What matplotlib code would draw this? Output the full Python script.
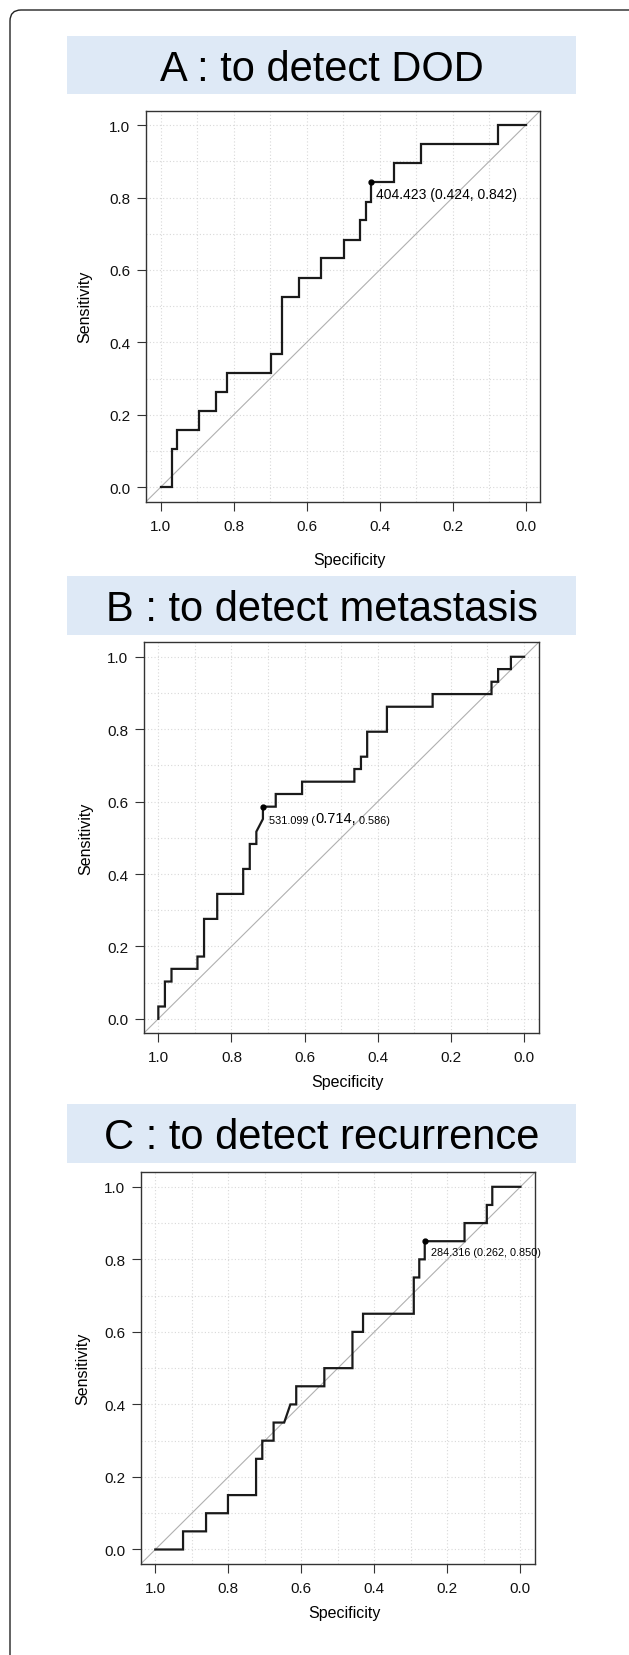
import matplotlib
matplotlib.use("Agg")
import matplotlib.pyplot as plt
from matplotlib.patches import FancyBboxPatch, Rectangle
import numpy as np

plt.rcParams['font.family'] = ['Liberation Sans', 'DejaVu Sans']

# ---------------- data ----------------
titles = ["A : to detect DOD", "B : to detect metastasis", "C : to detect recurrence"]

spec_A = [1.000, 0.970, 0.970, 0.954, 0.954, 0.894, 0.894, 0.849, 0.849, 0.819, 0.819,
          0.698, 0.698, 0.668, 0.668, 0.620, 0.620, 0.560, 0.560, 0.497, 0.497, 0.455,
          0.455, 0.437, 0.437, 0.424, 0.424, 0.362, 0.362, 0.286, 0.286, 0.075, 0.075, 0.000]
sens_A = [0.000, 0.000, 0.105, 0.105, 0.158, 0.158, 0.211, 0.211, 0.263, 0.263, 0.316,
          0.316, 0.368, 0.368, 0.526, 0.526, 0.579, 0.579, 0.632, 0.632, 0.684, 0.684,
          0.737, 0.737, 0.789, 0.789, 0.842, 0.842, 0.895, 0.895, 0.947, 0.947, 1.000, 1.000]

spec_B = [1.000, 1.000, 0.982, 0.982, 0.964, 0.964, 0.893, 0.893, 0.875, 0.875, 0.839,
          0.839, 0.768, 0.768, 0.750, 0.750, 0.732, 0.732, 0.714, 0.714, 0.679, 0.679,
          0.607, 0.607, 0.464, 0.464, 0.446, 0.446, 0.429, 0.429, 0.375, 0.375, 0.250,
          0.250, 0.089, 0.089, 0.071, 0.071, 0.036, 0.036, 0.000]
sens_B = [0.000, 0.034, 0.034, 0.103, 0.103, 0.138, 0.138, 0.172, 0.172, 0.276, 0.276,
          0.345, 0.345, 0.414, 0.414, 0.483, 0.483, 0.517, 0.552, 0.586, 0.586, 0.621,
          0.621, 0.655, 0.655, 0.690, 0.690, 0.724, 0.724, 0.793, 0.793, 0.862, 0.862,
          0.897, 0.897, 0.931, 0.931, 0.966, 0.966, 1.000, 1.000]

spec_C = [1.000, 0.924, 0.924, 0.861, 0.861, 0.801, 0.801, 0.724, 0.724, 0.707, 0.707,
          0.676, 0.676, 0.647, 0.630, 0.614, 0.614, 0.537, 0.537, 0.460, 0.460, 0.431,
          0.431, 0.292, 0.292, 0.277, 0.277, 0.262, 0.262, 0.153, 0.153, 0.092, 0.092,
          0.077, 0.077, 0.000]
sens_C = [0.000, 0.000, 0.050, 0.050, 0.100, 0.100, 0.150, 0.150, 0.250, 0.250, 0.300,
          0.300, 0.350, 0.350, 0.400, 0.400, 0.450, 0.450, 0.500, 0.500, 0.600, 0.600,
          0.650, 0.650, 0.750, 0.750, 0.800, 0.800, 0.850, 0.850, 0.900, 0.900, 0.950,
          0.950, 1.000, 1.000]

best_A = (0.424, 0.842)
best_B = (0.714, 0.586)
best_C = (0.262, 0.850)
label_A = "404.423 (0.424, 0.842)"
label_B_parts = ["531.099 (", "0.714,", " 0.586)"]
label_C = "284.316 (0.262, 0.850)"

tick_vals = [1.0, 0.8, 0.6, 0.4, 0.2, 0.0]
tick_labels = ["1.0", "0.8", "0.6", "0.4", "0.2", "0.0"]
ytick_vals = [0.0, 0.2, 0.4, 0.6, 0.8, 1.0]
ytick_labels = ["0.0", "0.2", "0.4", "0.6", "0.8", "1.0"]
grid_vals = [i / 10 for i in range(11)]

# ---------------- figure ----------------
W, H = 629, 1656
DPI = 100
fig = plt.figure(figsize=(W / DPI, H / DPI), dpi=DPI)
fig.patch.set_facecolor("white")

# background layer in pixel units
bg = fig.add_axes([0, 0, 1, 1], zorder=0)
bg.set_xlim(0, W)
bg.set_ylim(H, 0)
bg.axis("off")
bg.add_patch(FancyBboxPatch((10, 11), 640, 1660,
                            boxstyle="round,pad=0,rounding_size=11",
                            facecolor="white", edgecolor="#222222", lw=1.0))

title_boxes = [(37, 58), (577, 59), (1105, 59)]
for (ytop, hgt), t in zip(title_boxes, titles):
    bg.add_patch(Rectangle((67, ytop), 509, hgt, facecolor="#dee9f6", edgecolor="none"))
    cap = 30 * DPI / 72 * 0.716
    bg.text(321.5, ytop + hgt / 2 + cap / 2, t, fontsize=30, ha="center",
            va="baseline", color="black")

# axes rectangles (pixels): left, right, top, bottom
rects = [(146, 540.3, 111.7, 502.7),
         (143.7, 538.7, 643.3, 1034.3),
         (140.7, 535.0, 1173.3, 1565.0)]
xlab_y = [-0.1466, -0.1245, -0.123]
ylab_x = [-0.155, -0.146, -0.147]

specs = [spec_A, spec_B, spec_C]
senss = [sens_A, sens_B, sens_C]
bests = [best_A, best_B, best_C]

axes = []
for i, (l, r, t, b) in enumerate(rects):
    ax = fig.add_axes([l / W, 1 - b / H, (r - l) / W, (b - t) / H], zorder=2)
    ax.patch.set_alpha(0)
    ax.set_xlim(1.04, -0.04)
    ax.set_ylim(-0.04, 1.04)
    ax.set_xticks(tick_vals)
    ax.set_xticklabels(tick_labels)
    ax.set_yticks(ytick_vals)
    ax.set_yticklabels(ytick_labels)
    ax.set_xticks(grid_vals, minor=True)
    ax.set_yticks(grid_vals, minor=True)
    ax.tick_params(which="minor", length=0)
    ax.tick_params(which="major", direction="out", length=6.3, width=0.8,
                   color="#333333", labelsize=11, labelcolor="#111111")
    ax.tick_params(axis="x", which="major", pad=6)
    ax.tick_params(axis="y", which="major", pad=5)
    ax.grid(which="both", color="#d8d8d8", linestyle=(0, (1, 2)), lw=0.8)
    ax.set_axisbelow(True)
    for s in ax.spines.values():
        s.set_color("#333333")
        s.set_linewidth(1.0)
    ax.axline((1, 0), (0, 1), color="#b0b0b0", lw=0.8, zorder=2)
    ax.plot(specs[i], senss[i], color="#1a1a1a", lw=1.6, zorder=3,
            solid_joinstyle="miter")
    ax.plot([bests[i][0]], [bests[i][1]], "o", color="black", ms=3.5, zorder=4)
    ax.set_xlabel("Specificity", fontsize=11.5)
    ax.set_ylabel("Sensitivity", fontsize=11.5)
    ax.xaxis.set_label_coords(0.517, xlab_y[i])
    ax.yaxis.set_label_coords(ylab_x[i], 0.5)
    ax.xaxis.label.set_verticalalignment("center")
    ax.yaxis.label.set_verticalalignment("center")
    axes.append(ax)

# threshold annotations
px = 72 / DPI
axes[0].annotate(label_A, xy=best_A, xytext=(5.6 * px, -12 * px),
                 textcoords="offset points", fontsize=10, ha="left", va="center")
axes[2].annotate(label_C, xy=best_C, xytext=(6.2 * px, -10.7 * px),
                 textcoords="offset points", fontsize=7.8, ha="left", va="center")
sizes_B = [7.8, 10.5, 7.8]
prev = axes[1].annotate(label_B_parts[0], xy=best_B, xytext=(6.2 * px, -13 * px),
                        textcoords="offset points", fontsize=sizes_B[0],
                        ha="left", va="center")
for part, fs in zip(label_B_parts[1:], sizes_B[1:]):
    prev = axes[1].annotate(part, xy=(1, 0), xycoords=prev, fontsize=fs,
                            ha="left", va="bottom")

fig.savefig("out.png", dpi=DPI, facecolor="white")
